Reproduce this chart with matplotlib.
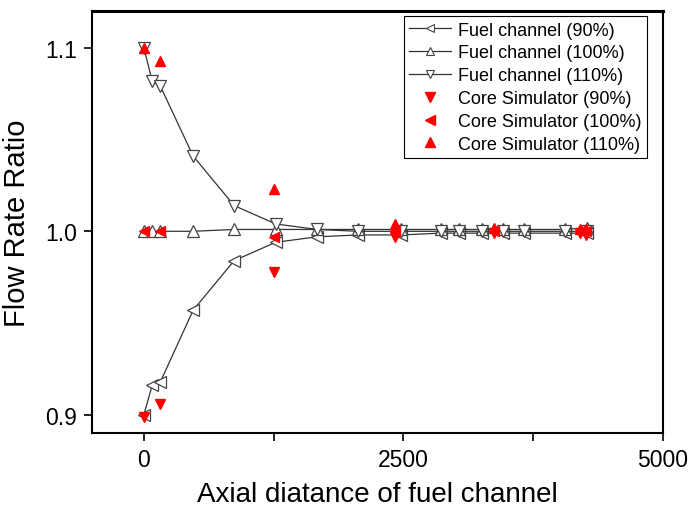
import matplotlib
matplotlib.use("Agg")
import matplotlib.pyplot as plt
from matplotlib.lines import Line2D

plt.rcParams['font.family'] = ['Liberation Sans', 'DejaVu Sans']

# Fuel channel axial positions
x_fuel = [0, 80, 160, 475, 870, 1270, 1670, 2065, 2480, 2860, 3040, 3260, 3460, 3660, 4060, 4270]
fuel_90 = [0.900, 0.916, 0.918, 0.957, 0.984, 0.994, 0.997, 0.998, 0.998, 0.999, 0.999, 0.999, 0.999, 0.999, 0.999, 0.999]
fuel_100 = [1.000, 1.000, 1.000, 1.000, 1.001, 1.001, 1.001, 1.001, 1.001, 1.001, 1.001, 1.001, 1.001, 1.001, 1.001, 1.002]
fuel_110 = [1.100, 1.082, 1.079, 1.041, 1.014, 1.004, 1.001, 1.000, 1.000, 1.000, 1.000, 1.000, 1.000, 1.000, 1.000, 1.000]

# Core simulator
x_core = [0, 160, 1250, 2420, 3370, 4200, 4260]
core_90 = [0.899, 0.906, 0.978, 0.997, 0.999, 0.999, 0.998]
core_100 = [1.000, 1.000, 0.997, 1.000, 1.000, 1.000, 1.000]
core_110 = [1.100, 1.093, 1.023, 1.004, 1.002, 1.001, 1.001]

fig = plt.figure(figsize=(6.89, 5.10), dpi=100)
ax = fig.add_axes([0.1335, 0.149, 0.8285, 0.827])

lc = '#333333'
mec = '#444444'
ms = 8
ax.plot(x_fuel, fuel_90, '-', color=lc, lw=0.9, marker='<', ms=ms, mfc='white', mec=mec, mew=0.9, label='Fuel channel (90%)')
ax.plot(x_fuel, fuel_100, '-', color=lc, lw=0.9, marker='^', ms=ms, mfc='white', mec=mec, mew=0.9, label='Fuel channel (100%)')
ax.plot(x_fuel, fuel_110, '-', color=lc, lw=0.9, marker='v', ms=ms, mfc='white', mec=mec, mew=0.9, label='Fuel channel (110%)')

cms = 7
ax.plot(x_core, core_90, 'v', color='red', ms=cms, mec='red', ls='none', label='Core Simulator (90%)')
ax.plot(x_core, core_100, '<', color='red', ms=cms, mec='red', ls='none', label='Core Simulator (100%)')
ax.plot(x_core, core_110, '^', color='red', ms=cms, mec='red', ls='none', label='Core Simulator (110%)')

ax.set_xlim(-500, 5000)
ax.set_ylim(0.89, 1.12)
ax.set_xticks([0, 2500, 5000])
ax.set_xticks([1250, 3750], minor=True)
ax.set_yticks([0.9, 1.0, 1.1])
ax.set_yticklabels(['0.9', '1.0', '1.1'])
ax.tick_params(axis='x', which='major', direction='out', length=6, width=1.2, labelsize=16.5, pad=5)
ax.tick_params(axis='y', which='major', direction='out', length=6, width=1.2, labelsize=16.5, pad=5)
ax.tick_params(axis='x', which='minor', direction='out', length=6, width=1.2)
for s in ax.spines.values():
    s.set_linewidth(1.5)
    s.set_color('black')
ax.spines['top'].set_linewidth(2.2)

ax.set_xlabel('Axial diatance of fuel channel', fontsize=20, labelpad=7)
ax.set_ylabel('Flow Rate Ratio', fontsize=21, labelpad=10)

handles, labels = ax.get_legend_handles_labels()
leg_handles = []
for h in handles[:3]:
    leg_handles.append(Line2D([], [], color=lc, lw=0.9, marker=h.get_marker(), ms=6, mfc='white', mec=mec, mew=0.8))
for h in handles[3:]:
    leg_handles.append(Line2D([], [], color='red', ls='none', marker=h.get_marker(), ms=7, mec='red'))
leg = ax.legend(leg_handles, labels, loc='upper right', bbox_to_anchor=(0.972, 0.988), fontsize=13,
                frameon=True, fancybox=False, edgecolor='black', framealpha=1,
                handlelength=2.3, handletextpad=0.4, labelspacing=0.32, borderpad=0.3, borderaxespad=0)
leg.get_frame().set_linewidth(0.8)

fig.savefig('out.png', dpi=100)
